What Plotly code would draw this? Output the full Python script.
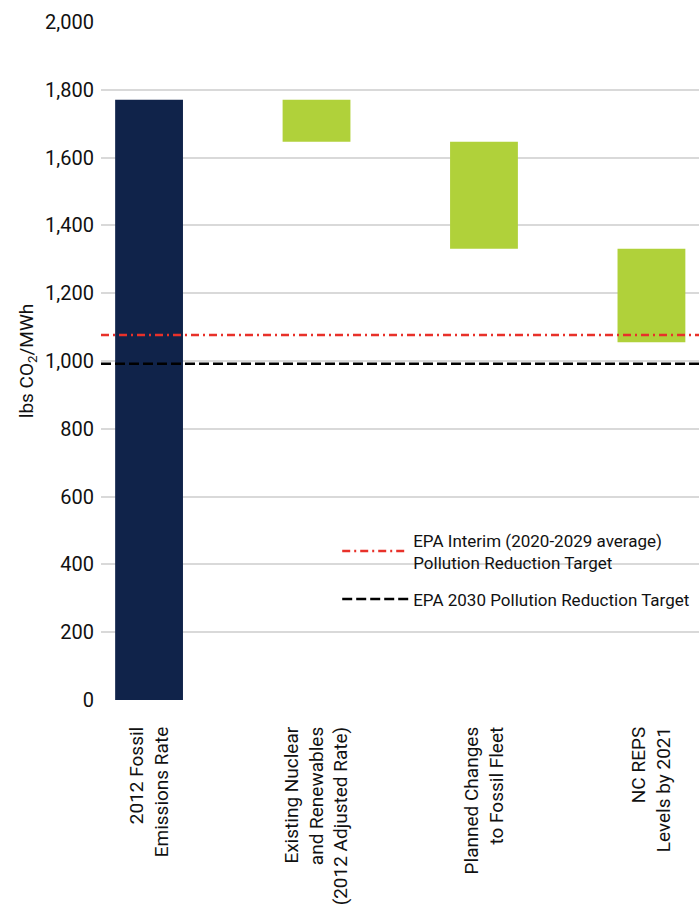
import plotly.graph_objects as go

# Waterfall steps of the fossil emissions rate (lbs CO2/MWh)
categories = [
    "2012 Fossil<br>Emissions Rate",
    "Existing Nuclear<br>and Renewables<br>(2012 Adjusted Rate)",
    "Planned Changes<br>to Fossil Fleet",
    "NC REPS<br>Levels by 2021",
]
start_rate = 1771
reductions = [124, 316, 276]

interim_target = 1077
final_target = 992

y_ticks = [0, 200, 400, 600, 800, 1000, 1200, 1400, 1600, 1800, 2000]

NAVY = "#10234A"
GREEN = "#B0D13A"
RED = "#E8312A"
FONT = "Roboto, sans-serif"

x_idx = list(range(len(categories)))

# running totals for floating bars
bases, heights = [0], [start_rate]
level = start_rate
for r in reductions:
    level -= r
    bases.append(level)
    heights.append(r)

fig = go.Figure()
fig.add_trace(go.Bar(
    x=x_idx, y=heights, base=bases,
    marker=dict(color=[NAVY] + [GREEN] * len(reductions), line=dict(width=0)),
    width=0.405, showlegend=False, hoverinfo="skip",
))

x_lo, x_hi = -0.287, 3.284
fig.add_trace(go.Scatter(
    x=[x_lo, x_hi], y=[interim_target, interim_target], mode="lines",
    line=dict(color=RED, width=2.5, dash="8px,4px,2px,4px"),
    name="EPA Interim (2020-2029 average)<br>Pollution Reduction Target",
    legendgroup="interim",
))
fig.add_trace(go.Scatter(
    x=[x_lo, x_hi], y=[final_target, final_target], mode="lines",
    line=dict(color="#000000", width=2.5, dash="10px,4px"),
    name="EPA 2030 Pollution Reduction Target",
    legendgroup="final",
))

fig.update_layout(
    width=699, height=907,
    margin=dict(l=101, r=0, t=22, b=207),
    paper_bgcolor="white", plot_bgcolor="white",
    font=dict(family=FONT, color="#111111"),
    legend=dict(
        x=0.395, y=0.262, xanchor="left", yanchor="top",
        bgcolor="rgba(0,0,0,0)", itemwidth=66, tracegroupgap=12,
        font=dict(family=FONT, size=17),
    ),
    xaxis=dict(
        range=[x_lo, x_hi], tickmode="array", tickvals=x_idx, ticktext=categories,
        tickangle=-90, showgrid=False, zeroline=False, showline=False, ticks="",
        ticklabelstandoff=22,
        tickfont=dict(family=FONT, size=19, color="#111111"),
    ),
    yaxis=dict(
        range=[0, 2000], tickmode="array", tickvals=y_ticks,
        ticktext=[f"{v:,}" for v in y_ticks],
        showgrid=True, gridcolor="#D9D9D9", gridwidth=1.5, zeroline=False,
        showline=False, ticks="", ticklabelstandoff=6,
        tickfont=dict(family=FONT, size=20, color="#111111"),
        title=dict(text="lbs CO<sub>2</sub>/MWh", standoff=6,
                   font=dict(family=FONT, size=19)),
    ),
)

fig.write_html("out.html")
